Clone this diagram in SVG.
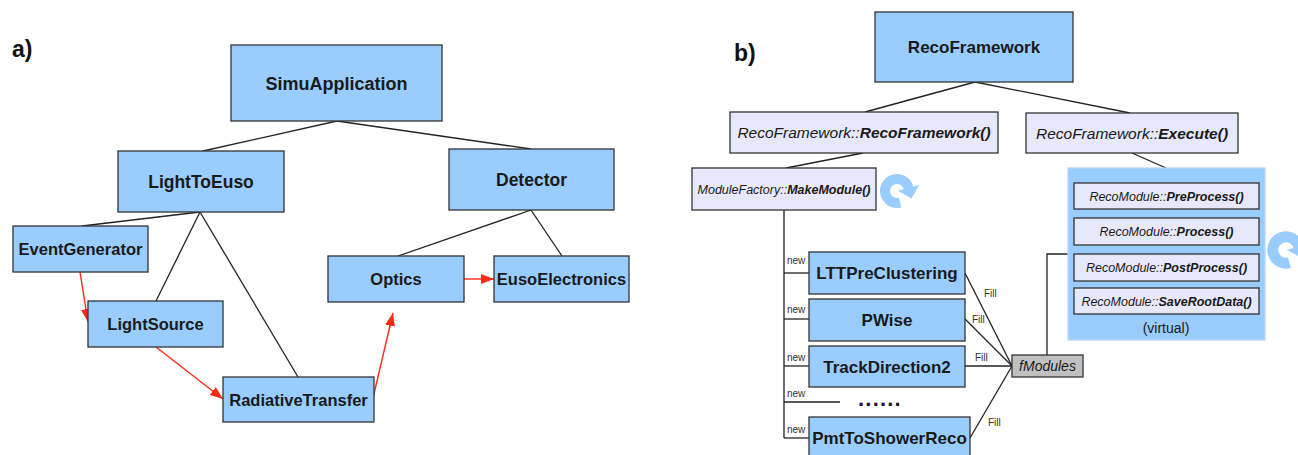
<svg xmlns="http://www.w3.org/2000/svg" width="1298" height="455" viewBox="0 0 1298 455">
<style>
.bx{fill:#99CCFF;stroke:#333;stroke-width:1.3}
.lv{fill:#E8E8FC;stroke:#333;stroke-width:1.3}
.gr{fill:#C0C0C0;stroke:#333;stroke-width:1.3}
.t{font-family:"Liberation Sans",Arial,sans-serif;font-weight:bold;fill:#1a1a1a;text-anchor:middle}
.it{font-family:"Liberation Sans",Arial,sans-serif;font-style:italic;fill:#1a1a1a;text-anchor:middle}
.sm{font-family:"Liberation Sans",Arial,sans-serif;font-size:10px;fill:#333}
.ln{stroke:#222;stroke-width:1.3;fill:none}
.rd{stroke:#FF2A1A;stroke-width:1.4;fill:none;marker-end:url(#ah)}
.lbl{font-family:"Liberation Sans",Arial,sans-serif;font-weight:bold;font-size:23px;fill:#111}
</style>
<defs>
<marker id="ah" markerUnits="userSpaceOnUse" markerWidth="14" markerHeight="10" refX="13" refY="5" orient="auto">
<path d="M0,0 L13,5 L0,10 Z" fill="#FF2A1A"/>
</marker>
<g id="icon">
<path d="M3.11,11.59 A12,12 0 1 1 11.74,-2.49" fill="none" stroke="#99CCFF" stroke-width="10"/>
<path d="M22.2,-5.96 L0.99,-0.26 L14.44,7.52 Z" fill="#99CCFF"/>
</g>
</defs>
<rect width="1298" height="455" fill="#fff"/>
<text class="lbl" x="12" y="57">a)</text>
<text class="lbl" x="734" y="61">b)</text>

<g id="connectors">
<line class="ln" x1="337" y1="121" x2="203" y2="151"/>
<line class="ln" x1="337" y1="121" x2="531" y2="149"/>
<line class="ln" x1="200" y1="212" x2="82" y2="226"/>
<line class="ln" x1="200" y1="212" x2="156" y2="301"/>
<line class="ln" x1="200" y1="212" x2="298" y2="377"/>
<line class="ln" x1="531" y1="210" x2="398" y2="256"/>
<line class="ln" x1="531" y1="210" x2="562" y2="256"/>
<line class="rd" x1="80" y1="272" x2="88" y2="322"/>
<line class="rd" x1="156" y1="347" x2="223" y2="399"/>
<line class="rd" x1="373" y1="398" x2="393" y2="313"/>
<line class="rd" x1="464" y1="279" x2="494" y2="279"/>

<line class="ln" x1="975" y1="82" x2="865" y2="112"/>
<line class="ln" x1="975" y1="82" x2="1130" y2="113"/>
<line class="ln" x1="863" y1="153" x2="786" y2="168"/>
<line class="ln" x1="1132" y1="153" x2="1166" y2="168"/>
<line class="ln" x1="784" y1="210" x2="784" y2="438"/>
<line class="ln" x1="784" y1="273" x2="809" y2="273"/>
<line class="ln" x1="784" y1="319" x2="809" y2="319"/>
<line class="ln" x1="784" y1="366" x2="809" y2="366"/>
<line class="ln" x1="784" y1="402" x2="840" y2="402"/>
<line class="ln" x1="784" y1="438" x2="809" y2="438"/>
<line class="ln" x1="965" y1="273" x2="1012" y2="366"/>
<line class="ln" x1="965" y1="319" x2="1012" y2="366"/>
<line class="ln" x1="965" y1="366" x2="1012" y2="366"/>
<line class="ln" x1="970" y1="438" x2="1012" y2="366"/>
<polyline class="ln" points="1047,355 1047,254 1068,254"/>
<text class="sm" x="787" y="264">new</text>
<text class="sm" x="787" y="313">new</text>
<text class="sm" x="787" y="361">new</text>
<text class="sm" x="787" y="397">new</text>
<text class="sm" x="787" y="433">new</text>
<text class="sm" x="984" y="297">Fill</text>
<text class="sm" x="972" y="323">Fill</text>
<text class="sm" x="975" y="361">Fill</text>
<text class="sm" x="988" y="426">Fill</text>
</g>

<g id="SimuApplication"><rect class="bx" x="231" y="45" width="211" height="76"/><text class="t" x="336.5" y="89.5" font-size="18">SimuApplication</text></g>
<g id="LightToEuso"><rect class="bx" x="118" y="151" width="166" height="61"/><text class="t" x="201" y="188" font-size="17.5">LightToEuso</text></g>
<g id="Detector"><rect class="bx" x="449" y="149" width="165" height="61"/><text class="t" x="531.5" y="186" font-size="17.5">Detector</text></g>
<g id="EventGenerator"><rect class="bx" x="13" y="226" width="135" height="46"/><text class="t" x="80.5" y="255" font-size="16.5">EventGenerator</text></g>
<g id="LightSource"><rect class="bx" x="88" y="301" width="135" height="46"/><text class="t" x="155.5" y="330" font-size="16.5">LightSource</text></g>
<g id="RadiativeTransfer"><rect class="bx" x="223" y="377" width="151" height="45"/><text class="t" x="298.5" y="405.5" font-size="16.5">RadiativeTransfer</text></g>
<g id="Optics"><rect class="bx" x="328" y="256" width="136" height="46"/><text class="t" x="396" y="285" font-size="16.5">Optics</text></g>
<g id="EusoElectronics"><rect class="bx" x="494" y="256" width="135" height="46"/><text class="t" x="561.5" y="285" font-size="16.5">EusoElectronics</text></g>

<g id="RecoFramework"><rect class="bx" x="875" y="12" width="198" height="70"/><text class="t" x="974" y="53" font-size="17">RecoFramework</text></g>
<g id="RecoFrameworkCtor"><rect class="lv" x="730" y="112" width="268" height="41"/><text class="it" x="864" y="138" font-size="15.5">RecoFramework::<tspan font-weight="bold">RecoFramework()</tspan></text></g>
<g id="Execute"><rect class="lv" x="1026" y="113" width="212" height="40"/><text class="it" x="1132" y="138.5" font-size="15.5">RecoFramework::<tspan font-weight="bold">Execute()</tspan></text></g>
<g id="MakeModule"><rect class="lv" x="692" y="168" width="184" height="42"/><text class="it" x="784" y="193.5" font-size="12.5">ModuleFactory::<tspan font-weight="bold">MakeModule()</tspan></text></g>
<g id="RecoModule">
<rect x="1068" y="168" width="197" height="172" fill="#99CCFF" stroke="#B5D8FA" stroke-width="1.3"/>
<rect class="lv" x="1074" y="183" width="185" height="26"/><text class="it" x="1166.5" y="200.5" font-size="12.5">RecoModule::<tspan font-weight="bold">PreProcess()</tspan></text>
<rect class="lv" x="1074" y="218" width="185" height="27"/><text class="it" x="1166.5" y="236" font-size="12.5">RecoModule::<tspan font-weight="bold">Process()</tspan></text>
<rect class="lv" x="1074" y="254" width="185" height="27"/><text class="it" x="1166.5" y="272" font-size="12.5">RecoModule::<tspan font-weight="bold">PostProcess()</tspan></text>
<rect class="lv" x="1074" y="288" width="185" height="26"/><text class="it" x="1166.5" y="305.5" font-size="12.5">RecoModule::<tspan font-weight="bold">SaveRootData()</tspan></text>
<text x="1166" y="333" font-size="14" font-family="Liberation Sans,Arial,sans-serif" fill="#1a1a1a" text-anchor="middle">(virtual)</text>
</g>
<g id="LTTPreClustering"><rect class="bx" x="809" y="252" width="156" height="42"/><text class="t" x="887" y="279" font-size="17">LTTPreClustering</text></g>
<g id="PWise"><rect class="bx" x="809" y="299" width="156" height="42"/><text class="t" x="887" y="326" font-size="17">PWise</text></g>
<g id="TrackDirection2"><rect class="bx" x="809" y="346" width="156" height="41"/><text class="t" x="887" y="372.5" font-size="17">TrackDirection2</text></g>
<g id="dots"><text class="t" x="880" y="406" font-size="22" letter-spacing="1.2">......</text></g>
<g id="PmtToShowerReco"><rect class="bx" x="809" y="417" width="161" height="50"/><text class="t" x="889.5" y="444" font-size="17">PmtToShowerReco</text></g>
<g id="fModules"><rect class="gr" x="1012" y="355" width="71" height="22"/><text class="it" x="1047.5" y="371" font-size="14">fModules</text></g>

<g id="loop1"><use href="#icon" transform="translate(897,191)"/></g>
<g id="loop2"><use href="#icon" transform="translate(1286,250) scale(1.1)"/></g>
</svg>
